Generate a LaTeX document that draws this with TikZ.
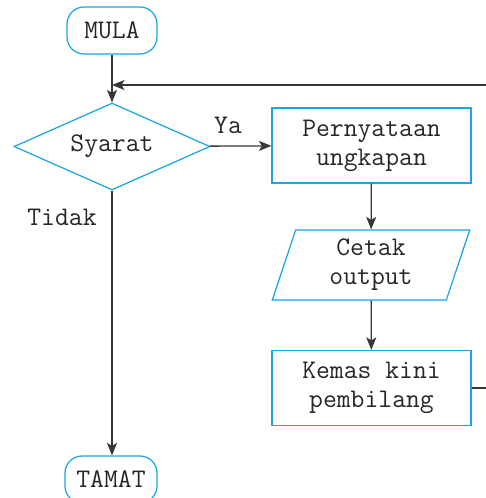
\documentclass[tikz,border=0pt]{standalone}
\usetikzlibrary{shapes.geometric,arrows.meta}
\definecolor{carta}{RGB}{27,166,224}
\definecolor{garis}{RGB}{55,55,55}
\begin{document}
\begin{tikzpicture}[x=0.02cm,y=-0.02cm,
  font=\ttfamily\fontsize{15.3}{16.5}\selectfont,
  every node/.style={text=black!85},
  kotak/.style={draw=carta,line width=0.7pt,align=center,inner sep=0pt},
  hujung/.style={kotak,rounded corners=0.34cm,minimum width=1.8cm,minimum height=0.94cm},
  proses/.style={kotak,minimum width=3.98cm,minimum height=1.5cm},
  arr/.style={draw=garis,line width=0.75pt,-{Stealth[length=0.25cm,width=0.2cm,inset=0.06cm]}}]
\clip (0,0) rectangle (486,498);
% the nodes of the chart
\node[hujung] (mula) at (112,30.5) {MULA};
\node[kotak,diamond,aspect=2.25,minimum width=3.92cm,minimum height=1.74cm] (syarat) at (112,146.5) {Syarat};
\node[proses] (nyata) at (371.5,145.5) {Pernyataan\\ungkapan};
\node[kotak,trapezium,trapezium stretches=true,trapezium left angle=76,trapezium right angle=104,
  minimum width=3.96cm,minimum height=1.4cm] (cetak) at (371,265) {Cetak\\output};
\node[proses] (kemas) at (371.5,388) {Kemas kini\\pembilang};
\node[hujung,minimum width=1.84cm] (tamat) at (111,479.5) {TAMAT};
\node (ya) at (228,125) {Ya};
\node (tidak) at (62,217) {Tidak};
% connectors
\coordinate (masuk) at (112,85);
\draw[arr] (mula) -- (syarat);
\draw[arr] (syarat) -- (nyata);
\draw[arr] (nyata) -- (cetak);
\draw[arr] (cetak) -- (kemas);
\draw[arr] (syarat.south) -- (tamat.north -| syarat.south);
\draw[arr] (kemas.east) -- ++(60,0) |- (masuk);
\end{tikzpicture}
\end{document}
